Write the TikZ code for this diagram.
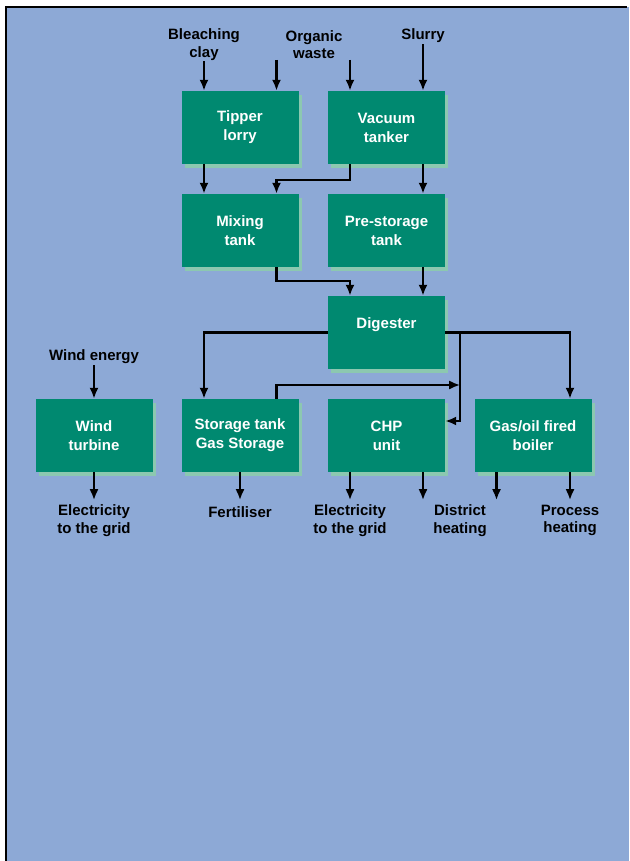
\documentclass[tikz,border=0pt]{standalone}
\usepackage{fontspec}
\setmainfont{Liberation Sans}
\usetikzlibrary{arrows.meta,shadows,calc}
\definecolor{bgblue}{RGB}{141,169,214}
\definecolor{unitgreen}{RGB}{0,137,112}
\definecolor{unitshadow}{RGB}{140,200,176}
\begin{document}
\begin{tikzpicture}[x=1pt,y=-1pt]
      \tikzset{unit/.style={fill=unitgreen,
          text=white,
          minimum width=117pt,
          minimum height=73pt,
          inner sep=0pt,
          align=center,
          font=\bfseries\fontsize{15}{19}\selectfont,
          general shadow={fill=unitshadow, shadow xshift=3pt, shadow yshift=-4pt}},
        ext/.style={align=center, inner sep=1pt,
          font=\bfseries\fontsize{15}{17.5}\selectfont},
        flow/.style={line width=2.3pt, -{Latex[length=11pt,width=9pt]}}
      }
      \useasboundingbox (0,0) rectangle (629,861);
      \fill [bgblue] (6,7) rectangle (629,861);
      \draw [line width=2pt] (6,861) -- (6,7) -- (627,7);
      \node [unit] (tipper) at (240,127.5) {Tipper\\lorry};
      \node [unit] (vacuum) at (386.5,127.5) {Vacuum\\tanker};
      \node [unit] (mixing) at (240,230.5) {Mixing\\tank};
      \node [unit] (prestore) at (386.5,230.5) {Pre-storage\\tank};
      \node [unit] (digester) at (386.5,332.5) {Digester\\~};
      \node [unit] (wind) at (94,435.5) {Wind\\turbine};
      \node [unit] (storage) at (240,435.5) {Storage tank\\Gas Storage};
      \node [unit] (chp) at (386.5,435.5) {CHP\\unit};
      \node [unit] (boiler) at (533,435.5) {Gas/oil fired\\boiler};
      \node [ext] (bleach) at (204,44.5) {Bleaching\\clay};
      \node [ext] (organic) at (314,44.5) {Organic\\waste};
      \node [ext] (slurry) at (423,36) {Slurry};
      \node [ext] (windin) at (94,357) {Wind energy};
      \node [ext] (elecwind) at (94,520.5) {Electricity\\to the grid};
      \node [ext] (fert) at (240,512) {Fertiliser};
      \node [ext] (elecchp) at (350,520.5) {Electricity\\to the grid};
      \node [ext] (district) at (460,520.5) {District\\heating};
      \node [ext] (process) at (570,520.5) {Process\\heating};
      \coordinate (tipperin) at ($(tipper.north)+(36.5,0)$);
      \coordinate (vacuumin) at ($(vacuum.north)+(-36.5,0)$);
      \coordinate (split) at ($(digester.east)+(15,0)$);
      \draw [flow] (bleach.south) -- (bleach.south |- tipper.north);
      \draw [flow] (organic.south -| tipperin) -- (tipperin);
      \draw [flow] (organic.south -| vacuumin) -- (vacuumin);
      \draw [flow] (slurry.south) -- (slurry.south |- vacuum.north);
      \draw [flow] (tipper.south -| bleach) -- (mixing.north -| bleach);
      \draw [flow] ($(vacuum.south)+(-36.5,0)$) -- ++(0,16) -| ($(mixing.north)+(36.5,0)$);
      \draw [flow] (vacuum.south -| slurry) -- (prestore.north -| slurry);
      \draw [flow] ($(mixing.south)+(36.5,0)$) -- ++(0,14) -| ($(digester.north)+(-36.5,0)$);
      \draw [flow] (prestore.south -| slurry) -- (digester.north -| slurry);
      \draw [flow] (digester.west) -| (storage.north -| bleach);
      \draw [flow] (digester.east) -| (boiler.north -| process);
      \draw [flow] (split) |- ($(chp.east)+(0,-14.5)$);
      \draw [flow] ($(storage.north)+(36.5,0)$) |- ($(split)+(0,52.5)$);
      \draw [flow] (windin.south) -- (wind.north);
      \draw [flow] (wind.south) -- ++(0,28);
      \draw [flow] (storage.south) -- ++(0,28);
      \draw [flow] (chp.south -| elecchp) -- ++(0,28);
      \draw [flow] ($(chp.south)+(36.5,0)$) -- ++(0,28);
      \draw [flow] ($(boiler.south)+(-36.5,0)$) -- ++(0,28);
      \draw [flow] (boiler.south -| process) -- ++(0,28);
\end{tikzpicture}
\end{document}
